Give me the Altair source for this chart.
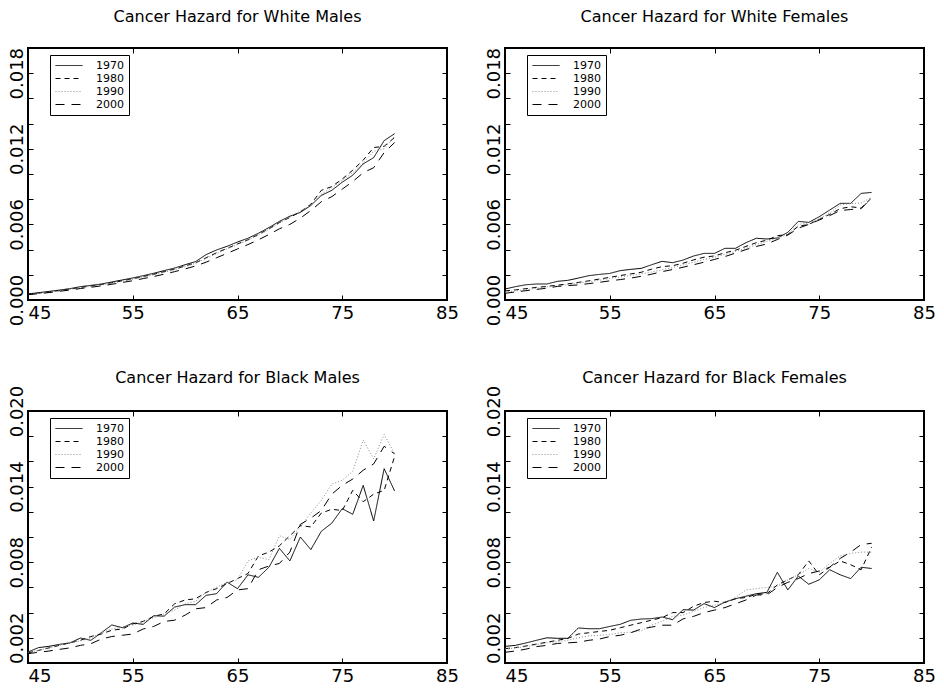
import altair as alt
import pandas as pd

ages = list(range(45, 81))
years = ["1970", "1980", "1990", "2000"]
x_ticks = [45, 55, 65, 75, 85]
y_ticks = [0.000, 0.002, 0.004, 0.006, 0.008, 0.010, 0.012, 0.014, 0.016, 0.018, 0.020]
top_labels = [0.000, 0.006, 0.012, 0.018]
bottom_labels = [0.002, 0.008, 0.014, 0.020]

titles = ["Cancer Hazard for White Males", "Cancer Hazard for White Females",
          "Cancer Hazard for Black Males", "Cancer Hazard for Black Females"]

# White males
wm_1970 = [0.00048,0.00058,0.00068,0.00079,0.00090,0.00106,0.00116,0.00127,0.00143,0.00159,0.00175,0.00193,0.00212,0.00233,0.00254,0.00280,0.00305,0.00360,0.00397,0.00426,0.00460,0.00490,0.00530,0.00575,0.00624,0.00665,0.00695,0.00750,0.00830,0.00870,0.00935,0.00990,0.01080,0.01130,0.01265,0.01320]
wm_1980 = [0.00045,0.00055,0.00064,0.00075,0.00087,0.00100,0.00111,0.00122,0.00137,0.00152,0.00168,0.00186,0.00204,0.00225,0.00245,0.00270,0.00295,0.00335,0.00375,0.00410,0.00445,0.00478,0.00520,0.00565,0.00615,0.00655,0.00700,0.00760,0.00870,0.00900,0.00960,0.01030,0.01110,0.01210,0.01220,0.01290]
wm_1990 = [0.00044,0.00053,0.00062,0.00073,0.00084,0.00097,0.00108,0.00120,0.00134,0.00150,0.00165,0.00183,0.00200,0.00220,0.00241,0.00265,0.00292,0.00330,0.00368,0.00405,0.00440,0.00475,0.00515,0.00560,0.00610,0.00660,0.00705,0.00755,0.00840,0.00890,0.00950,0.01010,0.01090,0.01180,0.01200,0.01300]
wm_2000 = [0.00042,0.00050,0.00059,0.00069,0.00079,0.00091,0.00101,0.00112,0.00125,0.00139,0.00153,0.00170,0.00186,0.00205,0.00225,0.00247,0.00270,0.00300,0.00335,0.00370,0.00405,0.00440,0.00478,0.00520,0.00565,0.00600,0.00650,0.00710,0.00780,0.00820,0.00880,0.00940,0.01010,0.01050,0.01170,0.01250]

# White females
wf_1970 = [0.00087,0.00106,0.00121,0.00127,0.00127,0.00148,0.00156,0.00174,0.00193,0.00203,0.00211,0.00233,0.00243,0.00251,0.00280,0.00307,0.00296,0.00317,0.00349,0.00370,0.00370,0.00410,0.00410,0.00455,0.00490,0.00484,0.00492,0.00537,0.00624,0.00616,0.00661,0.00714,0.00767,0.00767,0.00846,0.00854]
wf_1980 = [0.00072,0.00080,0.00090,0.00100,0.00108,0.00118,0.00128,0.00140,0.00152,0.00166,0.00180,0.00194,0.00207,0.00220,0.00245,0.00265,0.00272,0.00292,0.00318,0.00340,0.00350,0.00375,0.00395,0.00425,0.00455,0.00475,0.00510,0.00520,0.00585,0.00600,0.00640,0.00680,0.00725,0.00740,0.00730,0.00810]
wf_1990 = [0.00062,0.00072,0.00082,0.00094,0.00104,0.00112,0.00122,0.00133,0.00145,0.00157,0.00170,0.00182,0.00195,0.00207,0.00222,0.00240,0.00258,0.00278,0.00300,0.00322,0.00340,0.00362,0.00385,0.00410,0.00440,0.00465,0.00490,0.00520,0.00600,0.00610,0.00645,0.00690,0.00755,0.00765,0.00770,0.00815]
wf_2000 = [0.00053,0.00064,0.00074,0.00084,0.00094,0.00108,0.00114,0.00120,0.00130,0.00140,0.00152,0.00162,0.00174,0.00188,0.00205,0.00225,0.00242,0.00260,0.00280,0.00300,0.00322,0.00345,0.00372,0.00400,0.00425,0.00445,0.00480,0.00515,0.00570,0.00600,0.00635,0.00670,0.00710,0.00718,0.00725,0.00810]

# Black males
bm_1970 = [0.00087,0.00122,0.00132,0.00148,0.00159,0.00198,0.00180,0.00240,0.00302,0.00280,0.00317,0.00307,0.00375,0.00372,0.00444,0.00463,0.00463,0.00537,0.00550,0.00642,0.00590,0.00700,0.00680,0.00760,0.00910,0.00810,0.01000,0.00900,0.01045,0.01110,0.01225,0.01180,0.01410,0.01127,0.01542,0.01365]
bm_1980 = [0.00080,0.00100,0.00120,0.00140,0.00160,0.00180,0.00210,0.00230,0.00260,0.00270,0.00310,0.00330,0.00370,0.00390,0.00470,0.00500,0.00510,0.00560,0.00590,0.00630,0.00670,0.00710,0.00850,0.00880,0.00930,0.01010,0.01090,0.01080,0.01190,0.01220,0.01210,0.01370,0.01280,0.01340,0.01370,0.01640]
bm_1990 = [0.00085,0.00100,0.00120,0.00140,0.00165,0.00175,0.00200,0.00240,0.00270,0.00285,0.00300,0.00330,0.00360,0.00390,0.00420,0.00470,0.00490,0.00560,0.00600,0.00640,0.00660,0.00810,0.00840,0.00820,0.01010,0.00980,0.01080,0.01190,0.01290,0.01420,0.01450,0.01520,0.01770,0.01620,0.01815,0.01660]
bm_2000 = [0.00074,0.00085,0.00095,0.00108,0.00120,0.00140,0.00153,0.00190,0.00210,0.00220,0.00230,0.00270,0.00290,0.00330,0.00340,0.00380,0.00430,0.00440,0.00500,0.00520,0.00580,0.00590,0.00740,0.00770,0.00790,0.00880,0.01100,0.01150,0.01210,0.01340,0.01410,0.01460,0.01530,0.01580,0.01720,0.01660]

# Black females
bf_1970 = [0.00132,0.00140,0.00159,0.00180,0.00200,0.00196,0.00196,0.00278,0.00272,0.00272,0.00290,0.00307,0.00339,0.00349,0.00352,0.00365,0.00344,0.00423,0.00420,0.00471,0.00440,0.00484,0.00510,0.00530,0.00550,0.00560,0.00720,0.00580,0.00690,0.00625,0.00660,0.00740,0.00700,0.00670,0.00760,0.00750]
bf_1980 = [0.00114,0.00122,0.00135,0.00150,0.00165,0.00180,0.00195,0.00230,0.00240,0.00250,0.00260,0.00280,0.00300,0.00320,0.00340,0.00360,0.00400,0.00400,0.00450,0.00480,0.00490,0.00480,0.00510,0.00520,0.00545,0.00550,0.00620,0.00660,0.00700,0.00810,0.00700,0.00760,0.00810,0.00780,0.00740,0.00920]
bf_1990 = [0.00110,0.00120,0.00130,0.00145,0.00160,0.00170,0.00180,0.00200,0.00215,0.00220,0.00225,0.00240,0.00245,0.00255,0.00300,0.00330,0.00370,0.00380,0.00410,0.00440,0.00460,0.00480,0.00520,0.00580,0.00590,0.00600,0.00610,0.00660,0.00700,0.00750,0.00720,0.00790,0.00850,0.00870,0.00880,0.00880]
bf_2000 = [0.00085,0.00095,0.00110,0.00130,0.00140,0.00155,0.00160,0.00165,0.00180,0.00190,0.00210,0.00220,0.00240,0.00270,0.00285,0.00300,0.00300,0.00350,0.00370,0.00400,0.00420,0.00440,0.00470,0.00500,0.00540,0.00540,0.00600,0.00640,0.00670,0.00710,0.00730,0.00760,0.00830,0.00880,0.00940,0.00950]

panel_series = [
    [wm_1970, wm_1980, wm_1990, wm_2000],
    [wf_1970, wf_1980, wf_1990, wf_2000],
    [bm_1970, bm_1980, bm_1990, bm_2000],
    [bf_1970, bf_1980, bf_1990, bf_2000],
]
panel_labels = [top_labels, top_labels, bottom_labels, bottom_labels]
title_offsets = [22, 22, -1, -1]

FONT = "DejaVu Sans"
color_scale = alt.Scale(domain=years, range=["#000000", "#000000", "#8a8a8a", "#000000"])
dash_scale = alt.Scale(domain=years, range=[[1, 0], [5, 4], [1, 2], [9, 7]])


def make_df(series):
    rows = []
    for yr, vals in zip(years, series):
        for a, v in zip(ages, vals):
            rows.append({"age": a, "year": yr, "hazard": v})
    return pd.DataFrame(rows)


def panel(title, series, labels, toff):
    df = make_df(series)
    cond = " || ".join(f"round(datum.value*10000)=={round(v * 10000)}" for v in labels)
    label_expr = f"({cond}) ? format(datum.value, '.3f') : ''"
    xs = alt.Scale(domain=[45, 85], nice=False, zero=False)
    ys = alt.Scale(domain=[0, 0.02], nice=False)
    legend = alt.Legend(title=None, orient="none", legendX=22, legendY=7,
                        symbolType="M-1,0L4.4,0", symbolSize=100, symbolStrokeWidth=1,
                        strokeColor="black", fillColor="white", padding=5,
                        labelFontSize=11, labelFont=FONT, labelColor="black",
                        labelOffset=30, rowPadding=1)
    main = alt.Chart(df).mark_line(strokeWidth=1).encode(
        x=alt.X("age:Q", scale=xs, axis=alt.Axis(
            orient="bottom", values=x_ticks, title=None, grid=False, domain=False,
            tickSize=alt.ExprRef(expr="-5"), tickColor="black",
            labelFont=FONT, labelFontSize=18, labelColor="black", labelFlush=False,
            labelOverlap=False, labelPadding=9,
            labelAlign={"condition": {"test": "datum.value == 45", "value": "left"}, "value": "center"})),
        y=alt.Y("hazard:Q", scale=ys, axis=alt.Axis(
            orient="left", values=y_ticks, title=None, grid=False, domain=False,
            tickSize=alt.ExprRef(expr="-5"), tickColor="black",
            labelExpr=label_expr, labelAngle=270, labelAlign="center",
            labelBaseline="bottom", labelFont=FONT, labelFontSize=18,
            labelColor="black", labelOverlap=False, labelFlush=False, labelPadding=7)),
        color=alt.Color("year:N", scale=color_scale, legend=legend),
        strokeDash=alt.StrokeDash("year:N", scale=dash_scale, legend=legend),
    )
    frame = alt.Chart(df).mark_line(opacity=0).encode(
        x=alt.X("age:Q", scale=xs, axis=alt.Axis(
            orient="top", values=x_ticks, title=None, grid=False, domain=False,
            labels=False, tickSize=alt.ExprRef(expr="-5"), tickColor="black")),
        y=alt.Y("hazard:Q", scale=ys, axis=alt.Axis(
            orient="right", values=y_ticks, title=None, grid=False, domain=False,
            labels=False, tickSize=alt.ExprRef(expr="-5"), tickColor="black")),
        detail="year:N",
    )
    return alt.layer(main, frame).resolve_axis(x="independent", y="independent").properties(
        width=419, height=252,
        title=alt.TitleParams(title, font=FONT, fontSize=16, fontWeight="normal",
                              color="black", anchor="middle", offset=toff),
    )


charts = [panel(t, s, l, o) for t, s, l, o in zip(titles, panel_series, panel_labels, title_offsets)]
row1 = alt.hconcat(charts[0], charts[1], spacing=23).resolve_legend(
    color="independent", strokeDash="independent")
row2 = alt.hconcat(charts[2], charts[3], spacing=23).resolve_legend(
    color="independent", strokeDash="independent")
chart = alt.vconcat(row1, row2, spacing=42).resolve_legend(
    color="independent", strokeDash="independent"
).configure(
    padding={"left": 6, "top": 8, "right": 5, "bottom": 5}, background="white"
).configure_view(stroke="black", strokeWidth=2)

chart.save("out.html", embed_options={"renderer": "svg", "actions": False})
